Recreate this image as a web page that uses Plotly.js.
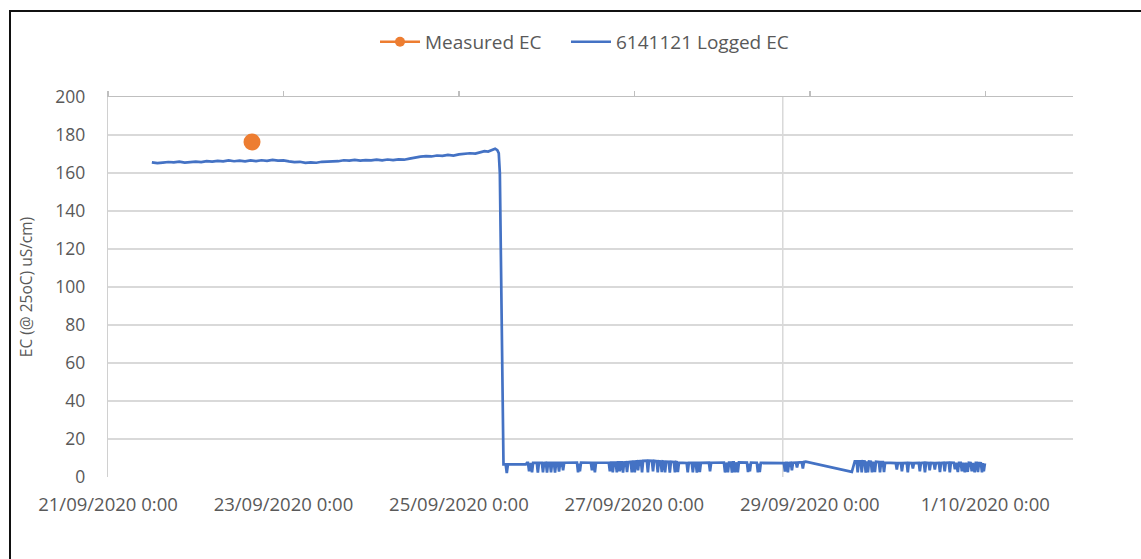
<!DOCTYPE html>
<html>
<head>
<meta charset="utf-8">
<script src="https://cdn.plot.ly/plotly-3.0.1.min.js"></script>
<style>
  html, body { margin: 0; padding: 0; background: #fff; overflow: hidden; }
  #chart { width: 1141px; height: 559px; }
  #frame { position: absolute; left: 9px; top: 10px; width: 1400px; height: 800px;
           border-left: 2px solid #111; border-top: 2px solid #111; pointer-events: none; }
</style>
</head>
<body>
<div id="chart"></div>
<div id="frame"></div>
<script>
// ---- data (hours since 21/09/2020 0:00, EC value) ----
const startDate = Date.UTC(2020, 8, 21);

const loggedUpper = [
  [12,165.6],[13.5,165.2],[15,165.5],[16.5,165.8],[18,165.6],[19.5,166.0],[21,165.5],[22.5,165.9],
  [24,166.0],[25.5,165.7],[27,166.2],[28.5,166.0],[30,166.4],[31.5,166.1],[33,166.6],[34.5,166.2],
  [36,166.5],[37.5,166.1],[39,166.6],[40.5,166.3],[42,166.7],[43.5,166.4],[45,166.9],[46.5,166.5],
  [48,166.6],[49.5,166.1],[51,165.7],[52.5,165.9],[54,165.3],[55.5,165.6],[57,165.4],[58.5,165.9],
  [60,166.0],[61.5,166.4],[63,166.2],[64.5,166.7],[66,166.5],[67.5,166.9],[69,166.5],[70.5,166.8],
  [72,166.6],[73.5,167.0],[75,166.7],[76.5,167.1],[78,166.8],[79.5,167.2],[81,167.0],[82.5,167.6],
  [84,168.3],[85.5,168.6],[87,168.9],[88.5,168.7],[90,169.2],[91.5,169.0],[93,169.5],[94.5,169.2],
  [96,169.8],[97.5,170.1],[99,170.4],[100.5,170.2],[102,171.0],[103,171.5],[104,171.3],[105,172.2],
  [105.9,172.8],[106.5,172.0],[106.9,170.5],[107.2,160],[107.6,90],[108.0,10],[108.2,6.6]
];

const loggedLower = [
  [108.8,6.6],[109.1,2.0],[109.4,6.6],
  [114.3,6.6],[114.6,7.4],
  [114.9,7.4],[115.2,3.0],[115.5,7.4],
  [115.7,7.4],[116.0,2.5],[116.3,7.4],
  [117.3,7.4],[117.6,2.3],[117.9,7.4],
  [118.7,7.4],[119.0,2.5],[119.3,7.4],
  [119.8,7.5],[120.1,2.3],[120.4,7.5],
  [120.9,7.5],[121.2,2.5],[121.5,7.5],
  [122.0,7.5],[122.3,2.3],[122.6,7.5],
  [123.1,7.5],[123.4,2.8],[123.7,7.5],
  [124.2,7.5],[124.5,3.5],[124.8,7.5],
  [128.3,7.6],[128.6,2.5],[128.85,7.0],[129.1,3.0],[129.4,7.6],
  [132.1,7.5],[132.4,3.5],[132.7,7.5],
  [132.9,7.5],[133.2,2.4],[133.5,7.5],
  [137.0,7.6],[137.3,3.0],[137.6,7.6],
  [137.8,7.6],[138.1,2.5],[138.4,7.6],
  [138.9,7.7],[139.2,2.4],[139.5,7.7],
  [139.7,7.7],[140.0,3.0],[140.3,7.7],
  [140.6,7.7],[140.9,2.3],[141.2,7.7],
  [141.7,7.8],[142.0,2.6],[142.3,7.8],
  [143.0,8.0],[143.3,2.5],[143.6,8.1],
  [143.8,8.1],[144.1,2.4],[144.4,8.2],
  [144.7,8.3],[145.0,3.5],[145.3,8.3],
  [145.8,8.4],[146.1,2.5],[146.4,8.5],
  [147.4,8.6],[147.7,2.4],[148.0,8.6],
  [148.8,8.5],[149.1,3.0],[149.4,8.5],
  [150.1,8.3],[150.4,2.5],[150.7,8.3],
  [151.2,8.2],[151.5,2.6],[151.8,8.2],
  [152.1,8.1],[152.4,2.5],[152.7,8.1],
  [153.4,8.0],[153.7,2.3],[154.0,8.0],
  [154.8,7.9],[155.1,2.5],[155.4,7.9],
  [155.6,7.8],[155.9,2.6],[156.2,7.6],
  [158.3,7.4],[158.6,2.4],[158.9,7.4],
  [159.7,7.4],[160.0,2.5],[160.3,7.4],
  [160.8,7.4],[161.1,2.3],[161.4,7.4],
  [161.6,7.4],[161.9,2.6],[162.2,7.4],
  [164.4,7.5],[164.7,3.0],[165.0,7.5],
  [168.5,7.6],[168.8,2.4],[169.1,7.6],
  [169.3,7.6],[169.6,2.5],[169.9,7.6],
  [170.4,7.7],[170.7,2.3],[171.0,7.7],
  [171.2,7.7],[171.5,2.5],[171.8,7.7],
  [172.0,7.7],[172.3,2.4],[172.6,7.7],
  [174.8,7.6],[175.1,2.6],[175.35,7.0],[175.6,3.0],[175.9,7.6],
  [177.5,7.5],[177.8,2.4],[178.05,7.0],[178.3,2.6],[178.6,7.4],
  [184.9,7.3],[185.2,2.8],[185.5,7.4],
  [185.7,7.4],[186.0,2.5],[186.3,7.4],
  [186.8,7.5],[187.1,3.5],[187.4,7.5],
  [188.2,7.6],[188.5,5.0],[188.8,7.6],
  [189.8,7.8],[190.1,4.5],[190.4,7.9],
  [190.9,8.1],
  [203.5,2.7],
  [204.3,8.3],
  [204.8,8.3],[205.1,2.4],[205.4,8.3],
  [205.9,8.3],[206.2,2.5],[206.5,8.3],
  [207.0,8.2],[207.3,2.3],[207.6,8.2],[207.9,2.5],[208.2,8.2],
  [208.7,8.1],[209.0,2.4],[209.3,8.1],[209.8,2.6],[210.1,8.0],
  [210.9,7.9],[211.2,2.4],[211.5,7.8],
  [212.0,7.8],[212.3,2.6],[212.6,7.6],
  [215.5,7.3],[215.8,4.0],[216.1,7.3],
  [216.9,7.3],[217.2,3.0],[217.5,7.3],
  [218.5,7.4],[218.8,2.5],[219.1,7.4],
  [219.9,7.3],[220.2,4.5],[220.5,7.3],
  [221.8,7.4],[222.1,3.0],[222.4,7.4],
  [223.2,7.5],[223.5,2.5],[223.8,7.5],
  [224.5,7.4],[224.8,3.5],[225.1,7.4],
  [225.9,7.3],[226.2,4.0],[226.5,7.3],
  [227.3,7.4],[227.6,2.6],[227.9,7.4],
  [228.6,7.5],[228.9,3.0],[229.2,7.5],
  [230.0,7.6],[230.3,2.5],[230.6,7.6],
  [231.4,7.5],[231.7,4.0],[232.0,7.5],[232.5,2.6],[232.8,7.5],
  [233.3,7.5],[233.6,3.0],[233.9,7.5],[234.4,2.5],[234.7,7.5],[235.2,2.7],[235.5,7.5],
  [236.0,7.4],[236.3,3.0],[236.6,7.4],[237.1,2.5],[237.4,7.4],
  [237.7,7.4],[238.0,2.6],[238.3,7.4],
  [238.8,7.3],[239.1,2.5],[239.35,7.3],[239.6,3.0],[239.9,7.2]
];

const measuredDates = ['2020-09-22 15:24'];
const measuredEC = [176.3];

const tickDates = ['2020-09-21','2020-09-23','2020-09-25','2020-09-27','2020-09-29','2020-10-01'];
const tickLabels = ['21/09/2020 0:00','23/09/2020 0:00','25/09/2020 0:00','27/09/2020 0:00','29/09/2020 0:00','1/10/2020 0:00'];
const xRange = ['2020-09-21', '2020-10-02'];
const extraGridDate = '2020-09-28 16:36';

// ---- build ----
function toDate(h) {
  const d = new Date(startDate + h * 3600000);
  return d.toISOString().slice(0, 19).replace('T', ' ');
}
const logged = loggedUpper.concat(loggedLower);
const loggedX = logged.map(p => toDate(p[0]));
const loggedY = logged.map(p => p[1]);

const blue = '#4472C4', orange = '#ED7D31', textGrey = '#595959';
const font = 'Open Sans, Liberation Sans, sans-serif';
const legendFont = { family: font, size: 19, color: textGrey };

const traces = [
  { // legend proxy for measured (smaller marker as in reference legend)
    x: [null], y: [null], name: 'Measured EC', mode: 'lines+markers',
    line: { color: orange, width: 2.5 }, marker: { color: orange, size: 10 },
    hoverinfo: 'skip', legend: 'legend'
  },
  {
    x: loggedX, y: loggedY, name: '6141121 Logged EC', mode: 'lines',
    line: { color: blue, width: 2.7 }, legend: 'legend2'
  },
  {
    x: measuredDates, y: measuredEC, name: 'Measured EC', mode: 'markers',
    marker: { color: orange, size: 17 }, showlegend: false
  },
  { // carrier for the top axis line/ticks
    x: [], y: [], xaxis: 'x2', showlegend: false, hoverinfo: 'skip', mode: 'lines'
  }
];

const layout = {
  width: 1141, height: 559,
  margin: { l: 108, r: 68, t: 97, b: 82 },
  paper_bgcolor: '#fff', plot_bgcolor: '#fff',
  font: { family: font, color: textGrey, size: 17 },
  showlegend: true,
  legend: {
    orientation: 'h', x: 0.2767, xanchor: 'left', y: 1.145, yanchor: 'middle',
    font: legendFont, itemwidth: 40
  },
  legend2: {
    orientation: 'h', x: 0.4746, xanchor: 'left', y: 1.145, yanchor: 'middle',
    font: legendFont, itemwidth: 40
  },
  xaxis: {
    type: 'date', range: xRange, tickmode: 'array', tickvals: tickDates, ticktext: tickLabels,
    showgrid: false, zeroline: false, showline: false, ticks: '',
    ticklabelstandoff: 14,
    tickfont: { family: font, size: 18.5, color: textGrey }
  },
  xaxis2: {
    type: 'date', range: xRange, overlaying: 'x', side: 'top', anchor: 'y',
    tickmode: 'array', tickvals: tickDates, showticklabels: false,
    ticks: 'outside', ticklen: 5, tickwidth: 1.5, tickcolor: '#bfbfbf',
    showline: true, linecolor: '#bfbfbf', linewidth: 1.5, showgrid: false, zeroline: false
  },
  yaxis: {
    range: [0, 200], dtick: 20, tick0: 0,
    showgrid: true, gridcolor: '#d9d9d9', gridwidth: 1.3,
    showline: true, linecolor: '#d0d0d0', linewidth: 1.3,
    zeroline: false, ticks: '', ticklabelstandoff: 18,
    tickfont: { family: font, size: 17.5, color: textGrey },
    title: { text: 'EC (@ 25oC) uS/cm)', font: { family: font, size: 15.5, color: textGrey }, standoff: 18 }
  },
  shapes: [
    { type: 'line', xref: 'x', yref: 'paper', x0: extraGridDate, x1: extraGridDate, y0: 0, y1: 1,
      line: { color: '#d9d9d9', width: 1.5 }, layer: 'below' }
  ]
};

Plotly.newPlot('chart', traces, layout, { displayModeBar: false, staticPlot: true });
</script>
</body>
</html>
